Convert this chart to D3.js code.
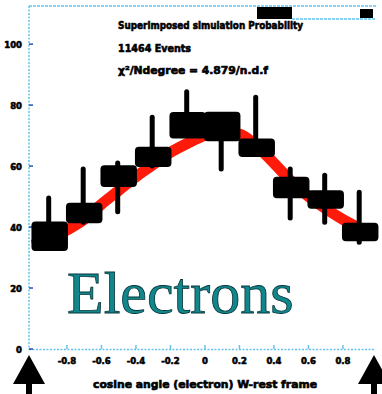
<!DOCTYPE html>
<html lang="en">
<head>
<meta charset="utf-8">
<title>Electrons</title>
<script src="https://d3js.org/d3.v7.min.js"></script>
<style>
  body { margin: 0; background: #fff; }
  svg { display: block; }
  .lbl { font-family: "DejaVu Sans", sans-serif; font-weight: bold; fill: #000; stroke: #000; stroke-width: 0.6; }
</style>
</head>
<body>
<svg id="chart"></svg>
<script>
// bin centres (cos theta) and measured values
var binCenters = [-0.9, -0.7, -0.5, -0.3, -0.1, 0.1, 0.3, 0.5, 0.7, 0.9];
var values     = [37, 44.6, 56.7, 63, 73.4, 73, 66, 53, 49, 38.4];
var sysErr     = [4.5, 3, 3.2, 3, 4, 4.5, 2.7, 3.2, 2.7, 2.7];
var errUp      = [12.5, 14.4, 4.3, 13, 11, 0, 16.6, 6, 8, 13];
var errDown    = [3, 3, 11.7, 3, 3, 14, 0, 10, 7.4, 3.4];

// fitted curve
var fitX = [-1.0, -0.9, -0.8, -0.7, -0.6, -0.5, -0.4, -0.3, -0.2, -0.1, 0.0, 0.1, 0.2, 0.3, 0.4, 0.5, 0.6, 0.7, 0.8, 0.9];
var fitY = [34, 36, 39, 42.5, 47.5, 52, 56.5, 60.5, 64.5, 67.5, 70, 71, 70.5, 66.5, 61, 55, 50, 46, 42.5, 39.5];

var yTicks = [0, 20, 40, 60, 80, 100];
var xTicks = [-0.8, -0.6, -0.4, -0.2, 0, 0.2, 0.4, 0.6, 0.8];
var statLines = ["Superimposed simulation Probability", "11464 Events", "\u03c7\u00b2/Ndegree = 4.879/n.d.f"];

var width = 382, height = 394;
var svg = d3.select("#chart").attr("width", width).attr("height", height);

var x = d3.scaleLinear().domain([-1.02, 0.98]).range([29, 374]);
var y = d3.scaleLinear().domain([0, 112.5]).range([349, 6]);

var axisCol = "#62c4ee";

// frame / axes, faint dotted like the scan
svg.append("line").attr("x1", 29).attr("x2", 29).attr("y1", 6).attr("y2", 350)
  .attr("stroke", axisCol).attr("stroke-width", 1.5).attr("stroke-dasharray", "2,1.5");
svg.append("line").attr("x1", 29).attr("x2", 374).attr("y1", 349.5).attr("y2", 349.5)
  .attr("stroke", axisCol).attr("stroke-width", 1.5).attr("stroke-dasharray", "2,1.5");
svg.append("line").attr("x1", 29).attr("x2", 376).attr("y1", 6).attr("y2", 6)
  .attr("stroke", axisCol).attr("stroke-width", 1.5).attr("stroke-dasharray", "3,1");
svg.append("line").attr("x1", 292).attr("x2", 375).attr("y1", 19).attr("y2", 19)
  .attr("stroke", axisCol).attr("stroke-width", 1.5).attr("stroke-dasharray", "3,1");
svg.append("rect").attr("x", 257).attr("y", 7).attr("width", 35).attr("height", 12).attr("fill", "#000");
svg.append("rect").attr("x", 360).attr("y", 9).attr("width", 13).attr("height", 9).attr("fill", "#000");

// y ticks + labels
svg.selectAll(".ytick").data(yTicks).enter().append("line")
  .attr("x1", 29).attr("x2", 33).attr("y1", d => y(d)).attr("y2", d => y(d))
  .attr("stroke", "#2a4fb0").attr("stroke-width", 1.5);
svg.selectAll(".ylab").data(yTicks).enter().append("text")
  .attr("class", "lbl").attr("x", 22).attr("y", d => y(d) + 3.5)
  .attr("text-anchor", "end").attr("font-size", 8.5).text(d => d);

// x ticks + labels
svg.selectAll(".xtick").data(xTicks).enter().append("line")
  .attr("x1", d => x(d)).attr("x2", d => x(d)).attr("y1", 349).attr("y2", 345)
  .attr("stroke", axisCol).attr("stroke-width", 1.5);
svg.selectAll(".xlab").data(xTicks).enter().append("text")
  .attr("class", "lbl").attr("x", d => x(d)).attr("y", 364)
  .attr("text-anchor", "middle").attr("font-size", 8.5).text(d => d);

svg.append("text").attr("class", "lbl").attr("x", 93).attr("y", 388)
  .attr("font-size", 10).attr("textLength", 224).attr("lengthAdjust", "spacingAndGlyphs")
  .text("cosine angle (electron) W-rest frame");

// stat lines
var statW = [185, 73, 150];
svg.selectAll(".stat").data(statLines).enter().append("text")
  .attr("class", "lbl").attr("x", 118).attr("y", (d, i) => 29 + i * 22.5)
  .attr("font-size", 10).attr("textLength", (d, i) => statW[i]).attr("lengthAdjust", "spacingAndGlyphs")
  .text(d => d);

// fit curve
var fitPts = fitX.map((d, i) => [d, fitY[i]]);
svg.append("path").datum(fitPts)
  .attr("d", d3.line().x(d => x(d[0])).y(d => y(d[1])).curve(d3.curveMonotoneX))
  .attr("fill", "none").attr("stroke", "#ff1a0a").attr("stroke-width", 11);

// systematic boxes
var bw = x(0.2) - x(0);
svg.selectAll(".box").data(binCenters).enter().append("rect")
  .attr("x", d => x(d) - bw / 2)
  .attr("y", (d, i) => y(values[i] + sysErr[i]))
  .attr("width", bw)
  .attr("height", (d, i) => y(values[i] - sysErr[i]) - y(values[i] + sysErr[i]))
  .attr("rx", 3)
  .attr("fill", "#000").attr("stroke", "#000").attr("stroke-width", 2);

// error bars
svg.selectAll(".err").data(binCenters).enter().append("line")
  .attr("x1", d => x(d) - 1).attr("x2", d => x(d) - 1)
  .attr("y1", (d, i) => y(values[i] + errUp[i]))
  .attr("y2", (d, i) => y(values[i] - errDown[i]))
  .attr("stroke", "#000").attr("stroke-width", 5).attr("stroke-linecap", "round");

// big label
svg.append("text").attr("x", 67).attr("y", 313)
  .attr("font-family", "'Liberation Serif', 'DejaVu Serif', serif").attr("font-size", 60)
  .attr("fill", "#11878c").attr("stroke", "#032f33").attr("stroke-width", 0.8)
  .text("Electrons");

// arrows at the axis ends
function arrow(cx) {
  svg.append("path")
    .attr("d", "M" + cx + ",355 L" + (cx + 16) + ",384 L" + (cx + 3) + ",384 L" + (cx + 3) + ",394 L" + (cx - 3) + ",394 L" + (cx - 3) + ",384 L" + (cx - 16) + ",384 Z")
    .attr("fill", "#000");
}
arrow(29);
arrow(374);
</script>
</body>
</html>
